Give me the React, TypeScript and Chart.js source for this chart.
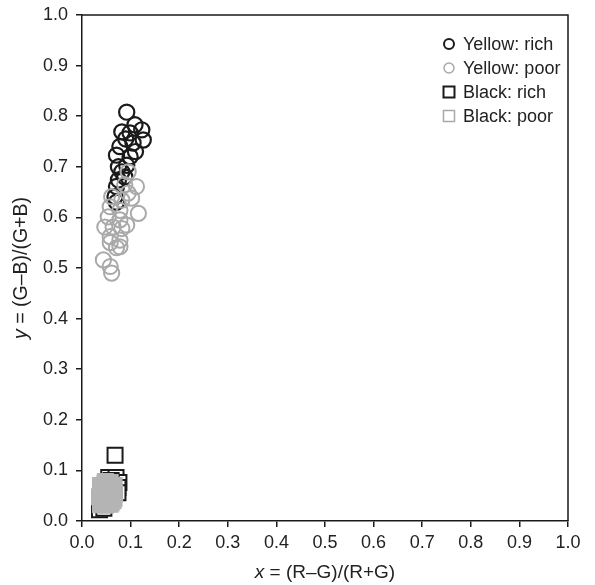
import { useEffect, useRef } from 'react';
import { Chart, registerables } from 'chart.js';

Chart.register(...registerables);

// Yellow: rich (black circles)
const yellowRichX = [0.092, 0.109, 0.123, 0.126, 0.099, 0.082, 0.078, 0.105, 0.071, 0.099, 0.092, 0.075, 0.082, 0.075, 0.071, 0.088, 0.068, 0.071, 0.110, 0.090];
const yellowRichY = [0.808, 0.783, 0.773, 0.753, 0.767, 0.769, 0.740, 0.747, 0.723, 0.720, 0.703, 0.700, 0.690, 0.674, 0.661, 0.680, 0.641, 0.630, 0.730, 0.755];

// Yellow: poor (grey circles)
const yellowPoorX = [0.112, 0.095, 0.102, 0.082, 0.061, 0.058, 0.078, 0.116, 0.054, 0.078, 0.047, 0.064, 0.082, 0.092, 0.058, 0.078, 0.058, 0.078, 0.071, 0.044, 0.058, 0.061, 0.088, 0.095];
const yellowPoorY = [0.661, 0.648, 0.638, 0.634, 0.641, 0.621, 0.614, 0.608, 0.601, 0.595, 0.581, 0.581, 0.578, 0.585, 0.562, 0.555, 0.550, 0.542, 0.540, 0.516, 0.503, 0.490, 0.665, 0.690];

// Black: rich (black squares)
const blackRichX = [0.068, 0.055, 0.070, 0.076, 0.074, 0.060, 0.048, 0.036, 0.045, 0.074];
const blackRichY = [0.130, 0.086, 0.086, 0.076, 0.066, 0.080, 0.074, 0.022, 0.025, 0.056];

// Black: poor (grey squares)
const blackPoorX = [0.038, 0.048, 0.058, 0.066, 0.042, 0.052, 0.062, 0.067, 0.036, 0.046, 0.056, 0.066, 0.040, 0.050, 0.060, 0.038, 0.048, 0.058, 0.044, 0.054, 0.064];
const blackPoorY = [0.070, 0.078, 0.076, 0.070, 0.060, 0.064, 0.060, 0.055, 0.048, 0.050, 0.048, 0.045, 0.040, 0.036, 0.036, 0.032, 0.031, 0.033, 0.055, 0.042, 0.040];

const axisMin = 0;
const axisMax = 1;
const axisStep = 0.1;

const xTitleParts = [{ t: 'x', italic: true }, { t: ' = (R\u2013G)/(R+G)', italic: false }];
const yTitleParts = [{ t: 'y', italic: true }, { t: ' = (G\u2013B)/(G+B)', italic: false }];

const legendLabels = ['Yellow: rich', 'Yellow: poor', 'Black: rich', 'Black: poor'];

const FONT = '"Liberation Sans", Arial, sans-serif';
const DARK = '#1a1a1a';
const TEXT = '#222222';
const GREY = '#a9a9a9';
const GREY_FILL = '#b4b4b4';

function pts(xs: number[], ys: number[]) {
  return xs.map((x, i) => ({ x, y: ys[i] }));
}

function drawMixed(ctx: CanvasRenderingContext2D, parts: { t: string; italic: boolean }[], cx: number, cy: number, size: number) {
  let total = 0;
  const widths = parts.map((p) => {
    ctx.font = `${p.italic ? 'italic ' : ''}${size}px ${FONT}`;
    const w = ctx.measureText(p.t).width;
    total += w;
    return w;
  });
  let x = cx - total / 2;
  ctx.textAlign = 'left';
  ctx.textBaseline = 'middle';
  parts.forEach((p, i) => {
    ctx.font = `${p.italic ? 'italic ' : ''}${size}px ${FONT}`;
    ctx.fillText(p.t, x, cy);
    x += widths[i];
  });
}

const decorPlugin = {
  id: 'decor',
  afterDraw(chart: any) {
    const { ctx, chartArea } = chart;
    const { left, right, top, bottom } = chartArea;
    ctx.save();
    // frame top/right
    ctx.strokeStyle = DARK;
    ctx.lineWidth = 1.5;
    ctx.beginPath();
    ctx.moveTo(left, top);
    ctx.lineTo(right, top);
    ctx.lineTo(right, bottom);
    ctx.stroke();

    // axis titles
    ctx.fillStyle = TEXT;
    drawMixed(ctx, xTitleParts, (left + right) / 2, bottom + 52, 19);
    ctx.save();
    ctx.translate(21.5, (top + bottom) / 2);
    ctx.rotate(-Math.PI / 2);
    drawMixed(ctx, yTitleParts, 0, 0, 19.5);
    ctx.restore();

    // legend
    const mx = right - 119;
    const tx = right - 105;
    legendLabels.forEach((label, i) => {
      const y = top + 29 + i * 24;
      ctx.beginPath();
      if (i < 2) {
        ctx.strokeStyle = i === 0 ? DARK : GREY;
        ctx.lineWidth = i === 0 ? 2 : 1.5;
        ctx.arc(mx, y, 5, 0, Math.PI * 2);
      } else {
        ctx.strokeStyle = i === 2 ? DARK : GREY;
        ctx.lineWidth = i === 2 ? 2 : 1.5;
        ctx.rect(mx - 5.5, y - 5.5, 11, 11);
      }
      ctx.stroke();
      ctx.font = `18px ${FONT}`;
      ctx.fillStyle = TEXT;
      ctx.textAlign = 'left';
      ctx.textBaseline = 'middle';
      ctx.fillText(label, tx, y + 1);
    });
    ctx.restore();
  },
};

export default function App() {
  const ref = useRef<HTMLCanvasElement | null>(null);

  useEffect(() => {
    if (!ref.current) return;
    const tickFont = { family: FONT, size: 18 };
    const chart = new Chart(ref.current, {
      type: 'scatter',
      data: {
        datasets: [
          {
            label: 'Black: poor',
            data: pts(blackPoorX, blackPoorY),
            pointStyle: 'rect',
            pointRadius: 10.6,
            borderWidth: 2,
            borderColor: GREY_FILL,
            backgroundColor: GREY_FILL,
            order: 1,
          },
          {
            label: 'Black: rich',
            data: pts(blackRichX, blackRichY),
            pointStyle: 'rect',
            pointRadius: 10.6,
            borderWidth: 2,
            borderColor: DARK,
            backgroundColor: '#ffffff',
            order: 2,
          },
          {
            label: 'Yellow: poor',
            data: pts(yellowPoorX, yellowPoorY),
            pointStyle: 'circle',
            pointRadius: 7.6,
            borderWidth: 2,
            borderColor: GREY,
            backgroundColor: 'transparent',
            order: 3,
          },
          {
            label: 'Yellow: rich',
            data: pts(yellowRichX, yellowRichY),
            pointStyle: 'circle',
            pointRadius: 7.6,
            borderWidth: 2.2,
            borderColor: DARK,
            backgroundColor: 'transparent',
            order: 4,
          },
        ],
      },
      options: {
        animation: false,
        responsive: true,
        maintainAspectRatio: false,
        layout: { padding: { left: 0, top: 15, right: 27, bottom: 0 } },
        plugins: {
          legend: { display: false },
          tooltip: { enabled: false },
        },
        scales: {
          x: {
            type: 'linear',
            min: axisMin,
            max: axisMax,
            ticks: {
              stepSize: axisStep,
              color: TEXT,
              font: tickFont,
              padding: 5,
              maxRotation: 0,
              callback: (v: any) => Number(v).toFixed(1),
            },
            grid: { drawOnChartArea: false, drawTicks: true, tickLength: 6, color: DARK, lineWidth: 1.5 },
            border: { display: true, color: DARK, width: 1.5 },
            afterFit: (s: any) => {
              s.height = 64;
              s.paddingLeft = 0;
              s.paddingRight = 0;
            },
          },
          y: {
            type: 'linear',
            min: axisMin,
            max: axisMax,
            ticks: {
              stepSize: axisStep,
              color: TEXT,
              font: tickFont,
              padding: 8,
              callback: (v: any) => Number(v).toFixed(1),
            },
            grid: { drawOnChartArea: false, drawTicks: true, tickLength: 6, color: DARK, lineWidth: 1.5 },
            border: { display: true, color: DARK, width: 1.5 },
            afterFit: (s: any) => {
              s.width = 82;
              s.paddingTop = 0;
              s.paddingBottom = 0;
            },
          },
        },
      },
      plugins: [decorPlugin],
    });
    return () => chart.destroy();
  }, []);

  return (
    <div style={{ position: 'fixed', left: 0, top: 0, width: 595, height: 585, background: '#fff' }}>
      <canvas ref={ref} />
    </div>
  );
}
